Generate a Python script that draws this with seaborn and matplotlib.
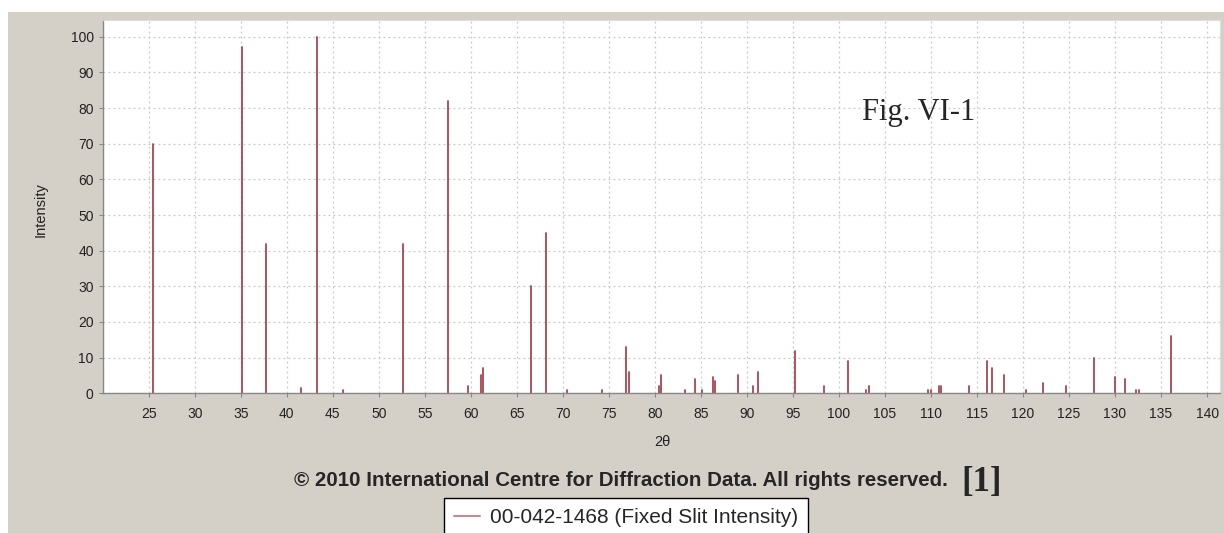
import numpy as np
import pandas as pd
import seaborn as sns
import matplotlib.pyplot as plt
from matplotlib.patches import Rectangle
from matplotlib.lines import Line2D

# peak positions (2theta) and relative intensities
two_theta = [25.5, 35.1, 37.75, 41.6, 43.3, 46.1, 52.6, 57.55, 59.7, 61.15, 61.35,
             66.5, 68.2, 70.4, 74.3, 76.85, 77.2, 80.4, 80.65, 83.25, 84.4, 85.1,
             86.35, 86.5, 89.0, 90.7, 91.25, 95.25, 98.4, 101.0, 102.95, 103.3,
             109.65, 109.95, 110.9, 111.05, 114.15, 116.05, 116.65, 117.95, 120.3,
             122.15, 124.65, 127.7, 130.0, 131.1, 132.3, 132.6, 136.05]
intensity = [70, 97, 42, 1.5, 100, 1, 42, 82, 2, 5, 7,
             30, 45, 1, 1, 13, 6, 2, 5, 1, 4, 1,
             4.5, 3.5, 5, 2, 6, 12, 2, 9, 1, 2,
             1, 1, 2, 2, 2, 9, 7, 5, 1,
             3, 2, 10, 4.5, 4, 1, 1, 16]
x_ticks = list(range(25, 145, 5))
y_ticks = list(range(0, 110, 10))
legend_label = "00-042-1468 (Fixed Slit Intensity)"

# each peak becomes a two point line from 0 up to its intensity
peaks = pd.DataFrame({
    "peak": np.repeat(np.arange(len(two_theta)), 2),
    "two_theta": np.repeat(two_theta, 2),
    "intensity": np.ravel([[0, h] for h in intensity]),
})

sns.set_style("white")
plt.rcParams['font.family'] = ['Liberation Sans', 'DejaVu Sans']

peak_color = "#a94552"
bg = "#d4d0c8"

fig = plt.figure(figsize=(12.24, 5.33), dpi=100, facecolor="white")
fig.patches.append(Rectangle((8 / 1224, 0), 1, (533 - 12) / 533,
                             transform=fig.transFigure, facecolor=bg,
                             edgecolor="none", zorder=-10))

ax = fig.add_axes([0.0839, 0.2621, 0.9128, 0.7004])
ax.set_facecolor("white")

sns.lineplot(data=peaks, x="two_theta", y="intensity", units="peak",
             estimator=None, sort=False, color=peak_color, linewidth=1.3,
             ax=ax, legend=False)

ax.set_xlim(20, 141.4)
ax.set_ylim(0, 104.7)
ax.set_xticks(x_ticks)
ax.set_yticks(y_ticks)
ax.grid(True, linestyle=(0, (1.5, 2.5)), color="#c8c8c8", linewidth=0.9)
ax.tick_params(axis="both", labelsize=10, labelcolor="#222222", length=3,
               width=0.8, color="#888888", direction="out", bottom=True, left=True)
ax.tick_params(axis="x", pad=7)
for side in ["left", "bottom"]:
    ax.spines[side].set_color("#888888")
    ax.spines[side].set_linewidth(1.0)
for side in ["top", "right"]:
    ax.spines[side].set_color("#dddddd")

ax.set_xlabel("2θ", fontsize=10.5, color="#222222", va="center")
ax.set_ylabel("Intensity", fontsize=10.5, color="#222222", va="center")
ax.xaxis.set_label_coords(0.5006, -0.1305)
ax.yaxis.set_label_coords(-0.0552, 0.491)

ax.text(0.680, 0.732, "Fig. VI-1", transform=ax.transAxes, fontsize=22,
        family="Liberation Serif", va="baseline", ha="left")

fig.text(621 / 1224, 1 - 480 / 533,
         "© 2010 International Centre for Diffraction Data. All rights reserved.",
         fontsize=14.8, fontweight="bold", ha="center", va="center")
fig.text(982 / 1224, 1 - 482 / 533, "[1]", fontsize=25, fontweight="bold",
         family="Liberation Serif", ha="center", va="center")

handle = Line2D([], [], color="#c98a8f", linewidth=1.5)
leg = fig.legend([handle], [legend_label], loc="upper left",
                 bbox_to_anchor=(444 / 1224, 1 - 497.5 / 533), borderaxespad=0,
                 frameon=True, fancybox=False, framealpha=1, edgecolor="black",
                 fontsize=15, handlelength=1.25, borderpad=0.5,
                 handletextpad=0.45)
leg.get_frame().set_linewidth(1.0)

fig.savefig("out.png", dpi=100, facecolor=fig.get_facecolor())
